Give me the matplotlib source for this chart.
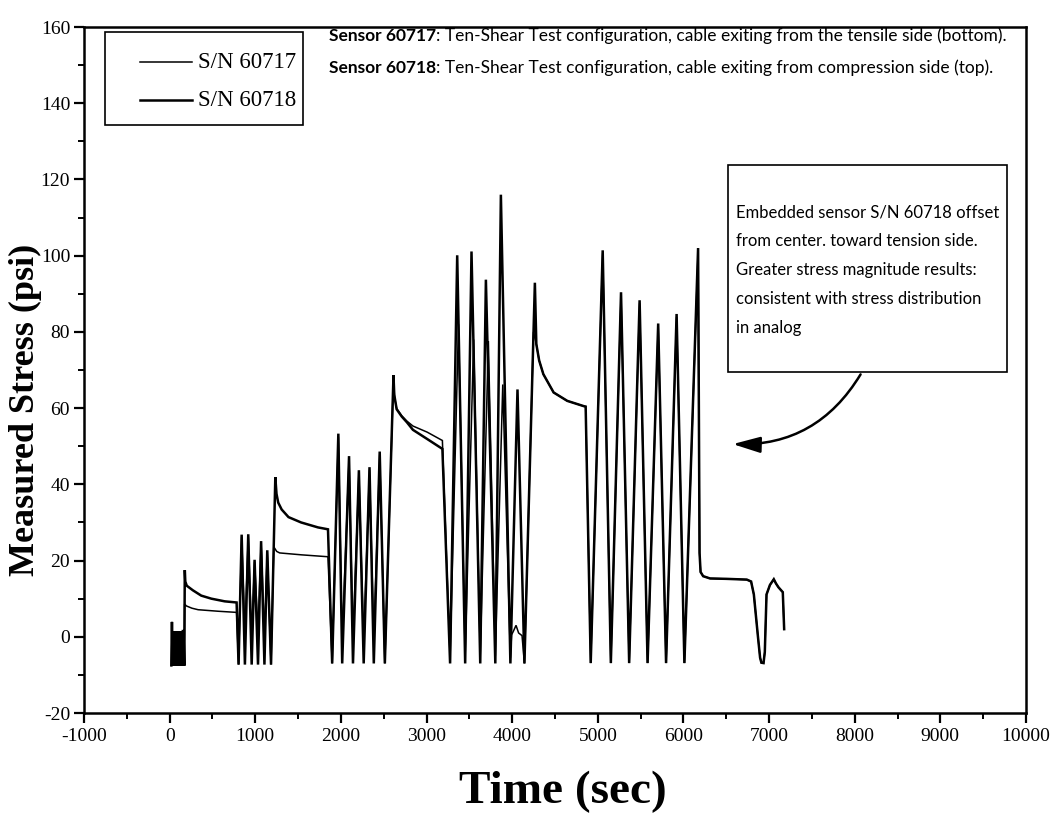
import matplotlib
matplotlib.use("Agg")
import matplotlib.pyplot as plt
from matplotlib.patches import Rectangle, FancyArrowPatch
from matplotlib.lines import Line2D
from matplotlib.ticker import MultipleLocator

plt.rcParams["axes.unicode_minus"] = False

# ---------------- measured stress records ----------------
# time in seconds, stress in psi
t_60718 = [20, 27, 34, 42, 50, 58, 66, 74, 82, 90, 98, 106, 114, 122, 130, 138, 146, 154, 162, 171,
           177, 183, 200, 271, 369, 487, 643, 782,
           805, 841, 879, 918, 958, 992, 1032, 1068, 1107, 1140, 1184,
           1234, 1248, 1268, 1308, 1388, 1535, 1732, 1849,
           1898, 1970, 2015, 2095, 2141, 2210, 2266, 2334, 2384, 2453, 2513,
           2614, 2623, 2651, 2710, 2770, 2841, 3007, 3185,
           3275, 3358, 3451, 3525, 3627, 3693, 3803, 3868, 3979, 4062, 4143,
           4265, 4282, 4315, 4364, 4484, 4643, 4838, 4858,
           4917, 5057, 5152, 5271, 5366, 5488, 5581, 5705, 5797, 5920, 6011, 6171,
           6188, 6200, 6230, 6311, 6500, 6740, 6790, 6822, 6870, 6895, 6910, 6935, 6950,
           6970, 7010, 7055, 7080, 7109, 7160, 7176]
s_60718 = [-7.5, 3.9, -7.6, 1.5, -7.6, 1.5, -7.6, 1.5, -7.6, 1.4, -7.6, 1.5, -7.6, 1.5, -7.6, 1.4, -7.6, 1.5, 1.5, -7.6,
           17.5, 14.5, 13.4, 12.2, 10.8, 10.0, 9.3, 9.0,
           -7.3, 26.8, -7.3, 26.9, -7.3, 20.2, -7.3, 25.1, -7.3, 22.7, -7.3,
           41.9, 37.5, 35.2, 33.4, 31.4, 30.0, 28.7, 28.2,
           -7.0, 53.3, -7.0, 47.4, -7.0, 43.7, -7.0, 44.5, -7.0, 48.6, -7.0,
           68.6, 63.5, 59.7, 57.8, 56.3, 54.3, 51.9, 49.3,
           -7.0, 100.1, -7.0, 101.1, -7.0, 93.7, -7.0, 116.0, -7.0, 64.9, -7.0,
           92.9, 76.8, 72.5, 68.9, 64.1, 61.9, 60.5, 60.4,
           -6.9, 101.4, -6.9, 90.4, -6.9, 88.3, -6.9, 82.2, -6.9, 84.7, -6.9, 102.0,
           22.0, 17.0, 15.9, 15.3, 15.2, 15.0, 14.5, 11.1, 0.0, -5.5, -6.8, -6.9, -4.0,
           11.1, 13.6, 15.1, 14.0, 13.0, 11.7, 2.0]

t_60717 = [20, 27, 34, 42, 50, 58, 66, 74, 82, 90, 98, 106, 114, 122, 130, 138, 146, 154, 162, 171,
           175, 195, 260, 333, 566, 782,
           805, 841, 879, 918, 958, 992, 1032, 1068, 1107, 1140, 1184,
           1216, 1250, 1285, 1540, 1849,
           1898, 1970, 2015, 2095, 2141, 2210, 2266, 2334, 2384, 2453, 2513,
           2614, 2626, 2651, 2710, 2770, 2841, 3007, 3185,
           3275, 3373, 3451, 3550, 3627, 3722, 3803, 3890, 3979, 3993, 4015, 4045, 4075, 4115, 4143,
           4249, 4282, 4315, 4364, 4484, 4643, 4838, 4858,
           4917, 5057, 5152, 5271, 5366, 5488, 5581, 5705, 5797, 5920, 6011, 6171,
           6188, 6200, 6230, 6311, 6500, 6740, 6790, 6822, 6870, 6895, 6910, 6935, 6950,
           6970, 7010, 7055, 7080, 7109, 7160, 7176]
s_60717 = [-7.5, 3.9, -7.6, 1.5, -7.6, 1.5, -7.6, 1.5, -7.6, 1.4, -7.6, 1.5, -7.6, 1.5, -7.6, 1.4, -7.6, 1.5, 1.5, -7.6,
           8.6, 8.1, 7.5, 7.1, 6.7, 6.4,
           -7.3, 26.3, 1.0, 26.4, 0.5, 19.7, 1.5, 24.6, 0.5, 22.2, -7.3,
           23.6, 22.4, 22.0, 21.5, 21.0,
           -7.0, 52.5, -1.0, 46.6, -0.5, 43.0, -1.0, 43.8, -0.5, 47.8, -7.0,
           67.8, 62.8, 59.9, 58.0, 56.6, 55.3, 53.7, 51.5,
           -5.5, 82.0, -5.0, 78.0, -5.0, 77.6, -5.0, 66.2, -5.5, 0.5, 1.5, 3.0, 1.0, 0.3, -7.0,
           80.0, 76.8, 72.5, 68.9, 64.1, 61.9, 60.5, 60.4,
           -6.9, 100.6, -6.9, 89.6, -6.9, 87.5, -6.9, 81.4, -6.9, 83.9, -6.9, 101.2,
           22.0, 17.0, 15.9, 15.3, 15.2, 15.0, 14.5, 11.1, 0.0, -5.5, -6.8, -6.9, -4.0,
           11.1, 13.6, 15.1, 14.0, 13.0, 11.7, 2.0]

series_labels = ["S/N 60717", "S/N 60718"]
x_ticks = list(range(-1000, 10001, 1000))
y_ticks = list(range(-20, 161, 20))

note_lines = [("Sensor 60717", ": Ten-Shear Test configuration, cable exiting from the tensile side (bottom)."),
              ("Sensor 60718", ": Ten-Shear Test configuration, cable exiting from compression side (top).")]
callout_text = ("Embedded sensor S/N 60718 offset\n"
                "from center. toward tension side.\n"
                "Greater stress magnitude results:\n"
                "consistent with stress distribution\n"
                "in analog")

# ---------------- figure ----------------
W, H = 1058, 818
fig = plt.figure(figsize=(W / 100, H / 100), dpi=100)
fig.patch.set_facecolor("white")


def fx(px):
    return px / W


def fy(py):
    return 1 - py / H


SERIF = "Liberation Serif"
SANS = "Lato"

ax = fig.add_axes([fx(84), fy(713), fx(1026) - fx(84), fy(27) - fy(713)])
ax.plot(t_60717, s_60717, color="black", lw=1.1, solid_joinstyle="miter")
ax.plot(t_60718, s_60718, color="black", lw=1.8, solid_joinstyle="miter")

ax.set_xlim(-1000, 10000)
ax.set_ylim(-20, 160)
ax.set_xticks(x_ticks)
ax.set_yticks(y_ticks)
ax.xaxis.set_minor_locator(MultipleLocator(500))
ax.yaxis.set_minor_locator(MultipleLocator(10))
ax.tick_params(which="major", direction="out", length=7, width=1.6, pad=4,
               labelsize=14, colors="black")
ax.tick_params(axis="y", which="major", pad=3)
ax.tick_params(which="minor", direction="out", length=4, width=1.4)
for lab in ax.get_xticklabels() + ax.get_yticklabels():
    lab.set_fontfamily(SERIF)
for sp in ax.spines.values():
    sp.set_linewidth(1.8)

fig.text(fx(25), fy(410), "Measured Stress (psi)", rotation=90, ha="center", va="center",
         fontsize=26, fontweight="bold", family=SERIF)
fig.text(fx(563), fy(792), "Time (sec)", ha="center", va="center",
         fontsize=34, fontweight="bold", family=SERIF)

# legend box
fig.patches.append(Rectangle((fx(105), fy(125)), fx(303) - fx(105), fy(32) - fy(125),
                             transform=fig.transFigure, fill=False, edgecolor="black", lw=1.2))
for row_y, lw, label in [(62, 1.1, series_labels[0]), (100, 1.8, series_labels[1])]:
    fig.lines.append(Line2D([fx(140), fx(192)], [fy(row_y), fy(row_y)], transform=fig.transFigure,
                            color="black", lw=lw))
    fig.text(fx(198), fy(row_y), label, ha="left", va="center", fontsize=16.5, family=SERIF)

# sensor configuration notes
for row_y, (head, rest) in zip([36, 68], note_lines):
    h = fig.text(fx(329), fy(row_y), head, ha="left", va="center", fontsize=12.5,
                 fontweight="bold", family=SANS)
    ax.annotate(rest, xy=(1, 0.5), xycoords=h, ha="left", va="center", fontsize=12.5,
                family=SANS, annotation_clip=False)

# callout box with curved arrow
fig.patches.append(Rectangle((fx(728), fy(372)), fx(1007) - fx(728), fy(165) - fy(372),
                             transform=fig.transFigure, fill=True, facecolor="white",
                             edgecolor="black", lw=1.2, zorder=3))
fig.text(fx(736), fy(204), callout_text, ha="left", va="top", fontsize=12,
         family=SANS, linespacing=2.0, zorder=4)
arrow = FancyArrowPatch((fx(862), fy(372)), (fx(730), fy(444)), transform=fig.transFigure,
                        connectionstyle="arc3,rad=-0.3",
                        arrowstyle="-|>,head_length=1.2,head_width=0.35",
                        mutation_scale=14, color="black", lw=1.8)
fig.patches.append(arrow)

fig.savefig("out.png", dpi=100)
